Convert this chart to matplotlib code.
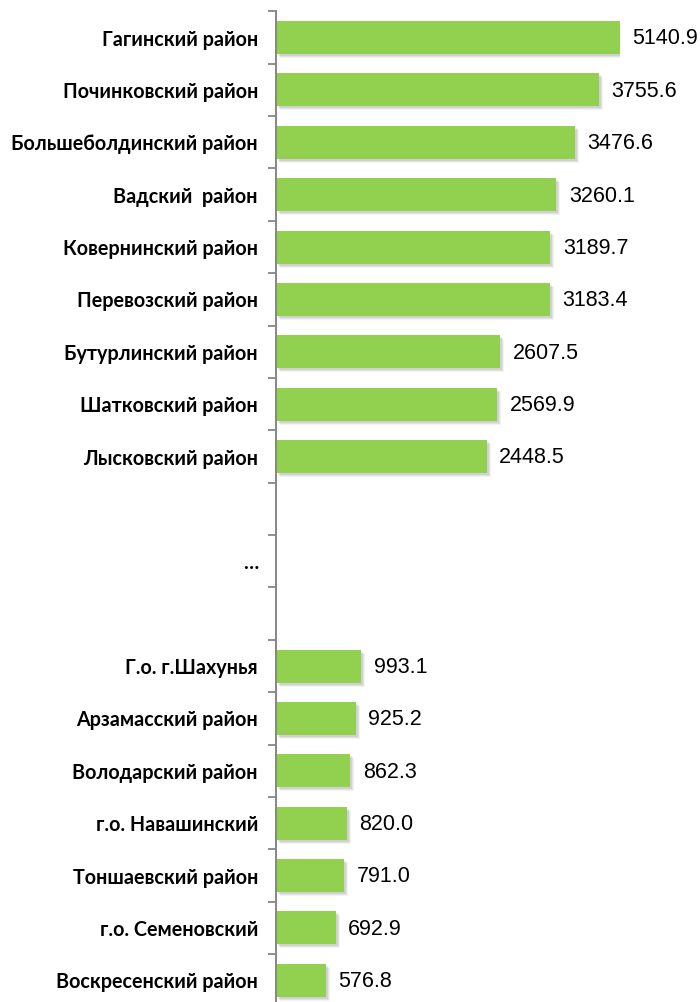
import numpy as np
import matplotlib.pyplot as plt
import matplotlib.transforms as mtrans

top_names = ["Гагинский район", "Починковский район", "Большеболдинский район",
             "Вадский  район", "Ковернинский район", "Перевозский район",
             "Бутурлинский район", "Шатковский район", "Лысковский район"]
top_values = [5140.9, 3755.6, 3476.6, 3260.1, 3189.7, 3183.4, 2607.5, 2569.9, 2448.5]

gap_names = ["", "…", ""]

bottom_names = ["Г.о. г.Шахунья", "Арзамасский район", "Володарский район",
                "г.о. Навашинский", "Тоншаевский район", "г.о. Семеновский",
                "Воскресенский район"]
bottom_values = [993.1, 925.2, 862.3, 820.0, 791.0, 692.9, 576.8]

names = top_names + gap_names + bottom_names
values = top_values + [np.nan] * len(gap_names) + bottom_values
x_max = 4000

green = "#92D050"
grey = "#868686"

fig = plt.figure(figsize=(7, 10.02), dpi=100)
ax = fig.add_axes([276 / 700, -0.0045, 344 / 700, 0.9932])

y = np.arange(len(names))
vals = np.nan_to_num(np.array(values, dtype=float))

# soft shadow under bars
for i, a in enumerate([0.05, 0.06, 0.08]):
    off = mtrans.ScaledTranslation((4 - i) / 100, -(4 - i) / 100, fig.dpi_scale_trans)
    ax.barh(y, vals, height=0.63, color="black", alpha=a, linewidth=0,
            transform=ax.transData + off)
ax.barh(y, vals, height=0.63, color=green, linewidth=0)

for yi, v in zip(y, values):
    if np.isnan(v):
        continue
    ax.annotate(f"{v:.1f}", xy=(min(v, x_max), yi), xytext=(9, -1),
                textcoords="offset points", va="center", ha="left",
                fontsize=15.5, family="Liberation Sans", color="black",
                annotation_clip=False)

ax.set_xlim(0, x_max)
ax.set_ylim(len(names) - 0.5, -0.5)

ax.set_yticks(y)
ax.set_yticklabels(names, fontsize=14.2, fontweight="bold", family="Lato")
ax.set_yticks(np.arange(-0.5, len(names)), minor=True)
ax.tick_params(axis="y", which="major", length=0, pad=13)
ax.tick_params(axis="y", which="minor", length=5.5, width=1.3, color=grey)
ax.set_xticks([])

for s in ["top", "right", "bottom"]:
    ax.spines[s].set_visible(False)
ax.spines["left"].set_color(grey)
ax.spines["left"].set_linewidth(1.4)

fig.savefig("out.png", dpi=100)
